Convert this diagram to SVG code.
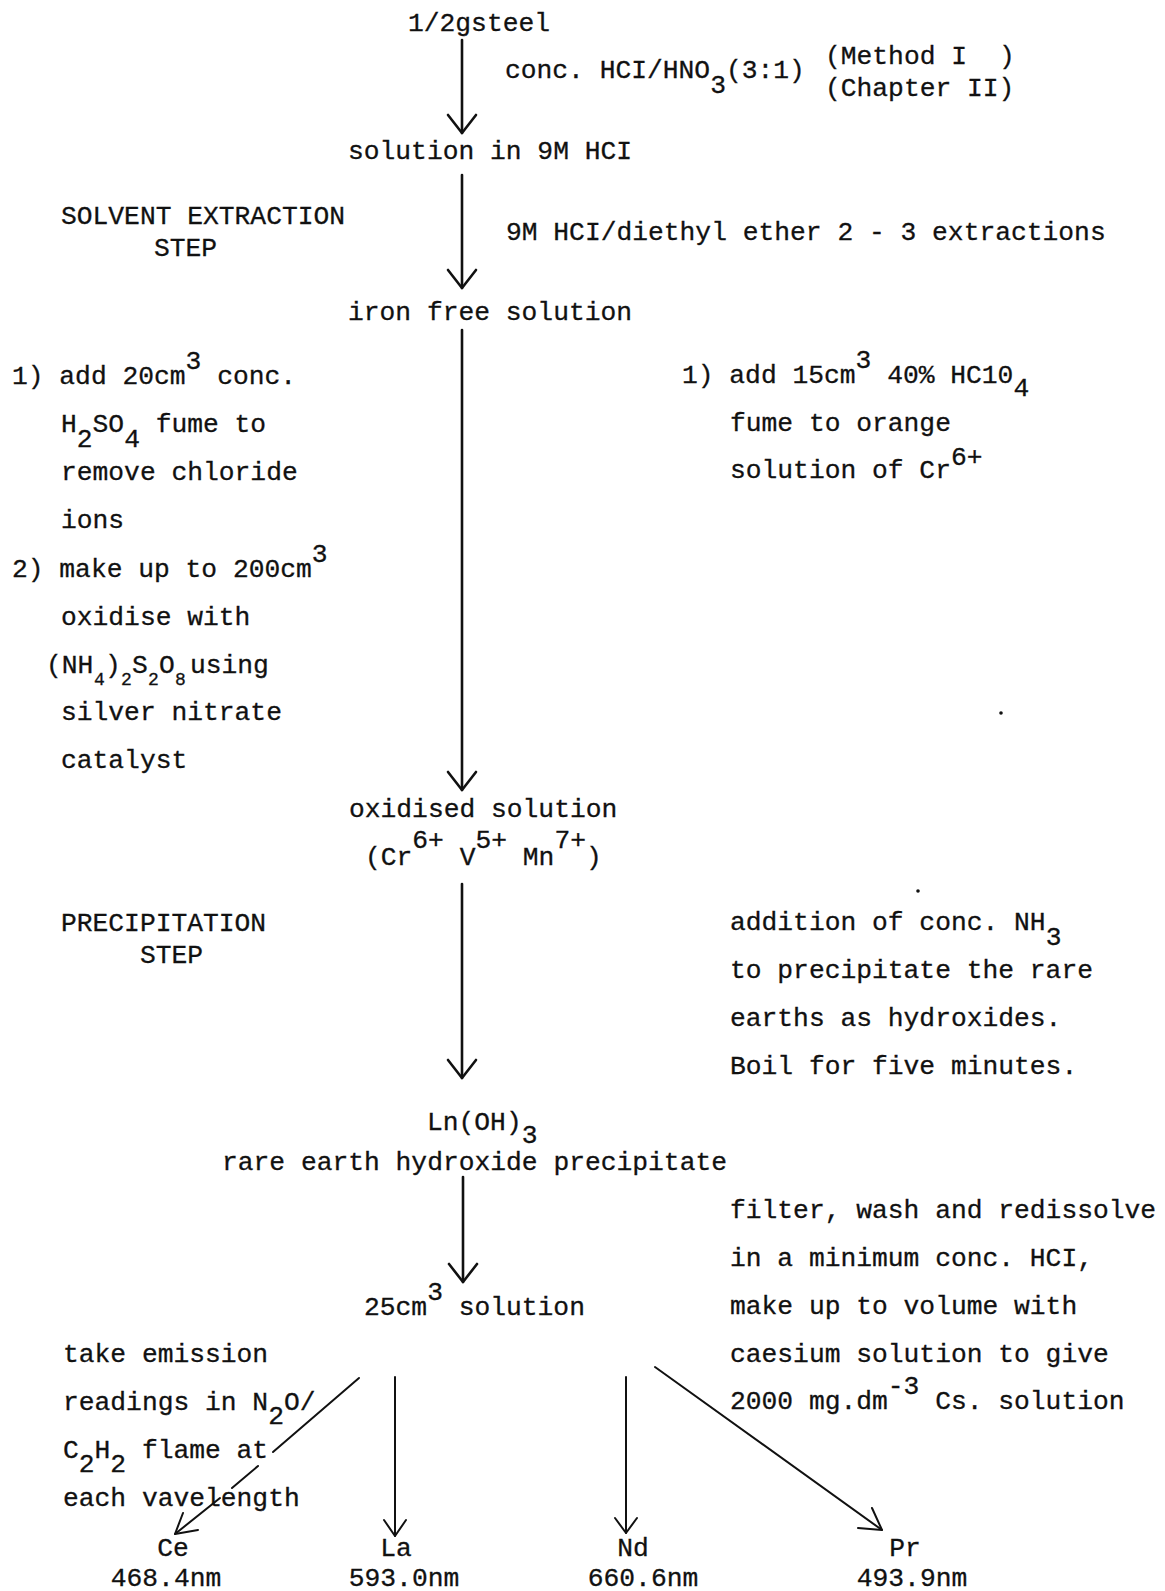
<svg xmlns="http://www.w3.org/2000/svg" width="1165" height="1591" viewBox="0 0 1165 1591">
<style>
  text { font-family: "Liberation Mono", "DejaVu Sans Mono", monospace; font-size: 26.3px; fill: #111; stroke: #111; stroke-width: 0.3px; }
  .mid { text-anchor: middle; }
  .sub { font-size: 18px; }
  .arr { stroke: #111; stroke-width: 2.6; fill: none; stroke-linecap: round; stroke-linejoin: round; }
  .thin { stroke-width: 2; }
</style>
<rect width="1165" height="1591" fill="#fff"/>

<g id="connectors">
  <line class="arr" x1="462" y1="40" x2="462" y2="133"/>
  <polyline class="arr" points="448,115 462,133 476,115"/>
  <line class="arr" x1="462" y1="175" x2="462" y2="288"/>
  <polyline class="arr" points="448,270 462,288 476,270"/>
  <line class="arr" x1="462" y1="330" x2="462" y2="790"/>
  <polyline class="arr" points="448,772 462,790 476,772"/>
  <line class="arr" x1="462" y1="884" x2="462" y2="1078"/>
  <polyline class="arr" points="448,1060 462,1078 476,1060"/>
  <line class="arr" x1="463" y1="1177" x2="463" y2="1282"/>
  <polyline class="arr" points="449,1264 463,1282 477,1264"/>

  <line class="arr thin" x1="359" y1="1378" x2="273" y2="1452"/>
  <line class="arr thin" x1="258" y1="1466" x2="232" y2="1488"/>
  <line class="arr thin" x1="220" y1="1498" x2="175" y2="1534"/>
  <polyline class="arr thin" points="198,1530 175,1534 183,1513"/>
  <line class="arr thin" x1="395" y1="1377" x2="395" y2="1536"/>
  <polyline class="arr thin" points="384,1520 395,1536 406,1520"/>
  <line class="arr thin" x1="626" y1="1377" x2="626" y2="1533"/>
  <polyline class="arr thin" points="615,1518 626,1533 637,1518"/>
  <line class="arr thin" x1="655" y1="1367" x2="882" y2="1530"/>
  <polyline class="arr thin" points="858,1528 882,1530 872,1508"/>
</g>

<g id="steel">
  <text x="408" y="31">1/2gsteel</text>
</g>
<g id="dissolve-label">
  <text x="505" y="78">conc. HCI/HNO<tspan dy="15">3</tspan><tspan dy="-15">(3:1)</tspan></text>
  <text x="825" y="64">(Method I</text>
  <text x="999" y="64">)</text>
  <text x="825" y="96">(Chapter II)</text>
</g>
<g id="solution-9m">
  <text x="348" y="159">solution in 9M HCI</text>
</g>
<g id="solvent-step">
  <text x="61" y="224">SOLVENT EXTRACTION</text>
  <text x="154" y="256">STEP</text>
</g>
<g id="extraction-label">
  <text x="506" y="240">9M HCI/diethyl ether 2 - 3 extractions</text>
</g>
<g id="iron-free">
  <text x="348" y="320">iron free solution</text>
</g>
<g id="left-oxidation-notes">
  <text x="12" y="384">1) add 20cm<tspan dy="-15">3</tspan><tspan dy="15"> conc.</tspan></text>
  <text x="61" y="432">H<tspan dy="15">2</tspan><tspan dy="-15">SO</tspan><tspan dy="15">4</tspan><tspan dy="-15"> fume to</tspan></text>
  <text x="61" y="480">remove chloride</text>
  <text x="61" y="528">ions</text>
  <text x="12" y="577">2) make up to 200cm<tspan dy="-15">3</tspan></text>
  <text x="61" y="625">oxidise with</text>
  <text y="673"><tspan x="46">(NH</tspan><tspan class="sub" x="94" dy="12">4</tspan><tspan x="105" dy="-12">)</tspan><tspan class="sub" x="121" dy="12">2</tspan><tspan x="132" dy="-12">S</tspan><tspan class="sub" x="148" dy="12">2</tspan><tspan x="159" dy="-12">O</tspan><tspan class="sub" x="175" dy="12">8</tspan><tspan x="190" dy="-12">using</tspan></text>
  <text x="61" y="720">silver nitrate</text>
  <text x="61" y="768">catalyst</text>
</g>
<g id="right-oxidation-notes">
  <text x="682" y="383">1) add 15cm<tspan dy="-15">3</tspan><tspan dy="15"> 40% HC10</tspan><tspan dy="13">4</tspan></text>
  <text x="730" y="431">fume to orange</text>
  <text x="730" y="478">solution of Cr<tspan dy="-13">6+</tspan></text>
</g>
<g id="oxidised">
  <text x="349" y="817">oxidised solution</text>
  <text x="365" y="865">(Cr<tspan dy="-17">6+</tspan><tspan dy="17"> V</tspan><tspan dy="-17">5+</tspan><tspan dy="17"> Mn</tspan><tspan dy="-17">7+</tspan><tspan dy="17">)</tspan></text>
</g>
<g id="precip-step">
  <text x="61" y="931">PRECIPITATION</text>
  <text x="140" y="963">STEP</text>
</g>
<g id="precip-label">
  <text x="730" y="930">addition of conc. NH<tspan dy="15">3</tspan></text>
  <text x="730" y="978">to precipitate the rare</text>
  <text x="730" y="1026">earths as hydroxides.</text>
  <text x="730" y="1074">Boil for five minutes.</text>
</g>
<g id="hydroxide">
  <text x="427" y="1130">Ln(OH)<tspan dy="13">3</tspan></text>
  <text x="222" y="1170">rare earth hydroxide precipitate</text>
</g>
<g id="solution-25">
  <text x="364" y="1315">25cm<tspan dy="-15">3</tspan><tspan dy="15"> solution</tspan></text>
</g>
<g id="redissolve-label">
  <text x="730" y="1218">filter, wash and redissolve</text>
  <text x="730" y="1266">in a minimum conc. HCI,</text>
  <text x="730" y="1314">make up to volume with</text>
  <text x="730" y="1362">caesium solution to give</text>
  <text x="730" y="1409">2000 mg.dm<tspan dy="-15">-3</tspan><tspan dy="15"> Cs. solution</tspan></text>
</g>
<g id="emission-label">
  <text x="63" y="1362">take emission</text>
  <text x="63" y="1410">readings in N<tspan dy="14">2</tspan><tspan dy="-14">O/</tspan></text>
  <text x="63" y="1458">C<tspan dy="14">2</tspan><tspan dy="-14">H</tspan><tspan dy="14">2</tspan><tspan dy="-14"> flame at</tspan></text>
  <text x="63" y="1506">each vavelength</text>
</g>
<g id="ce">
  <text class="mid" x="173" y="1556">Ce</text>
  <text class="mid" x="166" y="1586">468.4nm</text>
</g>
<g id="la">
  <text class="mid" x="396" y="1556">La</text>
  <text class="mid" x="404" y="1586">593.0nm</text>
</g>
<g id="nd">
  <text class="mid" x="633" y="1556">Nd</text>
  <text class="mid" x="643" y="1586">660.6nm</text>
</g>
<g id="pr">
  <text class="mid" x="905" y="1556">Pr</text>
  <text class="mid" x="912" y="1586">493.9nm</text>
</g>
<circle cx="918" cy="891" r="1.8" fill="#111"/>
<circle cx="1001" cy="713" r="1.8" fill="#111"/>
</svg>
